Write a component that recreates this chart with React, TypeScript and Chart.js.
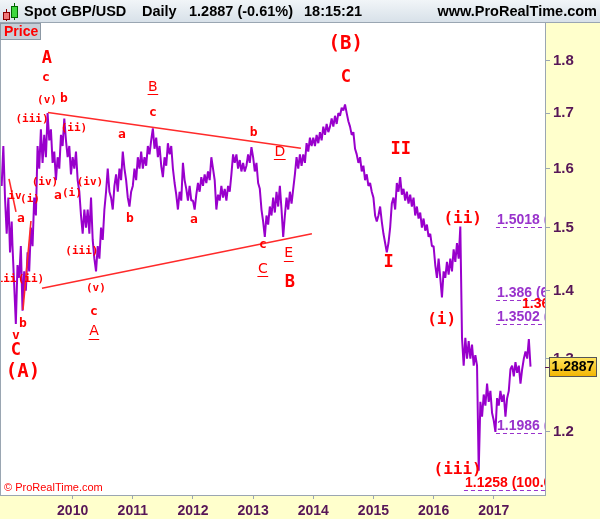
import React, { useEffect, useRef } from "react";
import { Chart, registerables } from "chart.js";

Chart.register(...registerables);

// ---------------- data ----------------
// closes sampled roughly every 10 days (36 per year); each segment starts at the given decimal year
const segmentStarts = [2008.82, 2009, 2010, 2011, 2012, 2013, 2014, 2015, 2016, 2017];
const samplesPerYear = 36;

const close2008 = [1.57, 1.64, 1.55, 1.49, 1.55, 1.46, 1.51];
const close2009 = [1.47, 1.41, 1.35, 1.44, 1.42, 1.47, 1.37, 1.43, 1.40, 1.46, 1.43, 1.50, 1.47, 1.55, 1.52, 1.64, 1.60, 1.67, 1.61, 1.66, 1.62, 1.70, 1.65, 1.67, 1.61, 1.63, 1.58, 1.62, 1.60, 1.66, 1.64, 1.69, 1.65, 1.62, 1.64, 1.59];
const close2010 = [1.62, 1.60, 1.63, 1.58, 1.56, 1.52, 1.49, 1.53, 1.50, 1.53, 1.49, 1.55, 1.48, 1.45, 1.43, 1.47, 1.45, 1.50, 1.48, 1.53, 1.56, 1.60, 1.56, 1.55, 1.53, 1.57, 1.59, 1.56, 1.60, 1.58, 1.63, 1.60, 1.58, 1.55, 1.535, 1.56];
const close2011 = [1.57, 1.60, 1.58, 1.62, 1.60, 1.63, 1.60, 1.62, 1.605, 1.64, 1.625, 1.65, 1.672, 1.635, 1.655, 1.62, 1.64, 1.605, 1.585, 1.62, 1.605, 1.645, 1.625, 1.64, 1.60, 1.575, 1.555, 1.53, 1.56, 1.545, 1.61, 1.58, 1.565, 1.545, 1.57, 1.545];
const close2012 = [1.545, 1.53, 1.555, 1.575, 1.56, 1.585, 1.57, 1.59, 1.575, 1.595, 1.58, 1.62, 1.60, 1.58, 1.53, 1.555, 1.545, 1.57, 1.55, 1.565, 1.545, 1.57, 1.56, 1.59, 1.625, 1.61, 1.625, 1.60, 1.615, 1.595, 1.61, 1.595, 1.605, 1.625, 1.61, 1.638];
const close2013 = [1.62, 1.595, 1.61, 1.575, 1.565, 1.53, 1.51, 1.485, 1.52, 1.505, 1.535, 1.52, 1.55, 1.525, 1.56, 1.535, 1.57, 1.53, 1.485, 1.52, 1.55, 1.53, 1.56, 1.54, 1.565, 1.59, 1.62, 1.60, 1.625, 1.605, 1.625, 1.61, 1.645, 1.63, 1.655, 1.64];
const close2014 = [1.655, 1.64, 1.66, 1.645, 1.665, 1.65, 1.675, 1.66, 1.68, 1.665, 1.675, 1.69, 1.675, 1.695, 1.68, 1.70, 1.695, 1.71, 1.705, 1.716, 1.70, 1.685, 1.675, 1.66, 1.665, 1.635, 1.625, 1.61, 1.62, 1.595, 1.605, 1.58, 1.59, 1.57, 1.575, 1.56];
const close2015 = [1.55, 1.52, 1.51, 1.52, 1.535, 1.51, 1.49, 1.475, 1.46, 1.475, 1.50, 1.54, 1.55, 1.53, 1.575, 1.56, 1.585, 1.555, 1.565, 1.545, 1.56, 1.54, 1.555, 1.535, 1.55, 1.52, 1.535, 1.515, 1.525, 1.50, 1.515, 1.495, 1.505, 1.485, 1.49, 1.47];
const close2016 = [1.47, 1.44, 1.42, 1.45, 1.42, 1.39, 1.43, 1.42, 1.445, 1.425, 1.45, 1.43, 1.465, 1.445, 1.475, 1.45, 1.502, 1.33, 1.29, 1.33, 1.30, 1.325, 1.30, 1.32, 1.29, 1.305, 1.29, 1.15, 1.24, 1.22, 1.25, 1.235, 1.265, 1.24, 1.255, 1.225];
const close2017 = [1.215, 1.20, 1.245, 1.235, 1.255, 1.24, 1.25, 1.22, 1.245, 1.255, 1.285, 1.29, 1.275, 1.295, 1.28, 1.29, 1.265, 1.285, 1.30, 1.31, 1.30, 1.328, 1.2887];
const closeSegments = [close2008, close2009, close2010, close2011, close2012, close2013, close2014, close2015, close2016, close2017];

const yearTicks = [2010, 2011, 2012, 2013, 2014, 2015, 2016, 2017];
const priceTicks = [1.2, 1.3, 1.4, 1.5, 1.6, 1.7, 1.8];
const dateMin = 2008.809;
const dateMax = 2017.852;
const priceMin = 1.1243;
const priceMax = 1.8759;
const lastPrice = 1.2887;
const headerItems = ["Spot GBP/USD", "Daily", "1.2887 (-0.61%)", "18:15:21"];

// trend lines: [date1, price1, date2, price2]
const trendLines = [
  [2009.59, 1.701, 2013.794, 1.636],
  [2009.49, 1.404, 2013.977, 1.49],
  [2008.942, 1.582, 2009.058, 1.526],
  [2009.174, 1.371, 2009.307, 1.511],
];

// fibonacci levels
const fibValues = [1.5018, 1.386, 1.3502, 1.1986, 1.1258];
const fibTexts = ["1.5018 (0.0%)", "1.386 (61.8%)", "1.3502 (23.6%)", "1.1986 (0.0%)", "1.1258 (100.0%)"];
const fibStartDates = [2017.037, 2017.037, 2017.037, 2017.037, 2016.505];
const redNote = ["1.3649 (161.8%)", 2017.47, 1.379];

// wave labels: [text, date, price]
const cycleLabels = [["(A)", 2009.174, 1.281], ["(B)", 2014.54, 1.833]];
const primaryLabels = [["A", 2009.573, 1.805], ["C", 2009.058, 1.312], ["C", 2014.54, 1.768], ["B", 2013.61, 1.413], ["II", 2015.453, 1.634], ["I", 2015.254, 1.444]];
const intermediateLabels = [["(ii)", 2016.483, 1.515], ["(i)", 2016.134, 1.356], ["(iii)", 2016.4, 1.151]];
const minorLabels = [
  ["(v)", 2009.573, 1.725], ["(iii)", 2009.324, 1.688], ["(ii)", 2010.022, 1.673],
  ["(iv)", 2009.54, 1.577], ["(iv)", 2010.287, 1.577], ["(i)", 2009.988, 1.558],
  ["iv", 2009.041, 1.553], ["(i)", 2009.291, 1.548], ["iii", 2008.9, 1.418],
  ["(ii)", 2009.307, 1.418], ["(iii)", 2010.154, 1.462], ["(v)", 2010.387, 1.404],
];
const letterLabels = [
  ["c", 2009.556, 1.768], ["b", 2009.855, 1.727], ["a", 2010.819, 1.661], ["c", 2011.334, 1.701],
  ["a", 2009.756, 1.553], ["a", 2009.141, 1.515], ["b", 2010.952, 1.515], ["a", 2012.017, 1.513],
  ["b", 2009.174, 1.351], ["v", 2009.058, 1.333], ["c", 2010.354, 1.368], ["b", 2013.011, 1.664],
  ["c", 2013.161, 1.473],
];
const underlinedLabels = [["B", 2011.334, 1.749], ["A", 2010.354, 1.339], ["C", 2013.161, 1.433], ["D", 2013.443, 1.629], ["E", 2013.593, 1.458]];

// ---------------- drawing ----------------
const MONO = '"DejaVu Sans Mono", monospace';
const SANS = '"Liberation Sans", Arial, sans-serif';
const RED = "#ff0000";
const FIB = "#9933cc";
const AXIS_TEXT = "#571657";
const FRAME = "#9aa6b2";

function drawList(ctx: CanvasRenderingContext2D, xs: any, ys: any, list: any[], font: string) {
  ctx.font = font;
  ctx.fillStyle = RED;
  ctx.textAlign = "center";
  ctx.textBaseline = "middle";
  for (const [t, d, p] of list) ctx.fillText(t, xs.getPixelForValue(d), ys.getPixelForValue(p));
}

const overlay = {
  id: "overlay",
  beforeDraw(chart: any) {
    const { ctx, chartArea: a, width, height } = chart;
    ctx.save();
    ctx.fillStyle = "#ffffcc";
    ctx.fillRect(0, 0, width, height);
    ctx.fillStyle = "#ffffff";
    ctx.fillRect(a.left, a.top, a.right - a.left, a.bottom - a.top);
    ctx.restore();
  },
  afterDatasetsDraw(chart: any) {
    const { ctx, chartArea: a } = chart;
    const xs = chart.scales.x;
    const ys = chart.scales.y;
    ctx.save();
    ctx.beginPath();
    ctx.rect(a.left, a.top, a.right - a.left, a.bottom - a.top);
    ctx.clip();

    ctx.strokeStyle = "#ff2a2a";
    ctx.lineWidth = 1.6;
    for (const [d1, p1, d2, p2] of trendLines) {
      ctx.beginPath();
      ctx.moveTo(xs.getPixelForValue(d1), ys.getPixelForValue(p1));
      ctx.lineTo(xs.getPixelForValue(d2), ys.getPixelForValue(p2));
      ctx.stroke();
    }

    ctx.lineWidth = 1;
    ctx.strokeStyle = FIB;
    ctx.setLineDash([4, 3]);
    fibValues.forEach((v, i) => {
      const y = Math.round(ys.getPixelForValue(v)) + 0.5;
      ctx.beginPath();
      ctx.moveTo(xs.getPixelForValue(fibStartDates[i]), y);
      ctx.lineTo(a.right, y);
      ctx.stroke();
    });
    ctx.setLineDash([]);

    ctx.font = `bold 14px ${SANS}`;
    ctx.textAlign = "left";
    ctx.textBaseline = "alphabetic";
    fibValues.forEach((v, i) => {
      const y = Math.round(ys.getPixelForValue(v));
      ctx.fillStyle = i === fibValues.length - 1 ? RED : FIB;
      ctx.fillText(fibTexts[i], xs.getPixelForValue(fibStartDates[i]) + 1, y - 3);
    });
    ctx.fillStyle = RED;
    ctx.textBaseline = "middle";
    ctx.fillText(redNote[0] as string, xs.getPixelForValue(redNote[1]), ys.getPixelForValue(redNote[2]));

    drawList(ctx, xs, ys, minorLabels, `bold 11px ${MONO}`);
    drawList(ctx, xs, ys, letterLabels, `bold 13px ${MONO}`);
    drawList(ctx, xs, ys, intermediateLabels, `bold 16px ${MONO}`);
    drawList(ctx, xs, ys, primaryLabels, `bold 17px ${MONO}`);
    drawList(ctx, xs, ys, cycleLabels, `bold 19px ${MONO}`);

    ctx.font = `14px "DejaVu Sans", sans-serif`;
    ctx.strokeStyle = RED;
    ctx.lineWidth = 1;
    for (const [t, d, p] of underlinedLabels) {
      const x = xs.getPixelForValue(d);
      const y = ys.getPixelForValue(p);
      ctx.fillText(t, x, y);
      const w = ctx.measureText(t).width + 1;
      ctx.beginPath();
      ctx.moveTo(x - w / 2, Math.round(y + 7) + 0.5);
      ctx.lineTo(x + w / 2, Math.round(y + 7) + 0.5);
      ctx.stroke();
    }
    ctx.restore();
  },
  afterDraw(chart: any) {
    const { ctx, chartArea: a, width } = chart;
    const ys = chart.scales.y;
    ctx.save();

    // frame
    ctx.strokeStyle = FRAME;
    ctx.lineWidth = 1;
    ctx.strokeRect(0.5, a.top - 0.5, a.right, a.bottom - a.top + 1);

    // header
    const g = ctx.createLinearGradient(0, 0, 0, 22);
    g.addColorStop(0, "#f1f5f8");
    g.addColorStop(1, "#d8e1e9");
    ctx.fillStyle = g;
    ctx.fillRect(0, 0, width, 22);
    ctx.strokeStyle = FRAME;
    ctx.beginPath();
    ctx.moveTo(0, 22.5);
    ctx.lineTo(width, 22.5);
    ctx.stroke();
    // candle icon
    ctx.strokeStyle = "#8a0000";
    ctx.beginPath(); ctx.moveTo(6.5, 9); ctx.lineTo(6.5, 21); ctx.stroke();
    ctx.fillStyle = "#f07878";
    ctx.fillRect(3.5, 12.5, 6, 7); ctx.strokeRect(3.5, 12.5, 6, 7);
    ctx.strokeStyle = "#006600";
    ctx.beginPath(); ctx.moveTo(14.5, 3); ctx.lineTo(14.5, 20); ctx.stroke();
    ctx.fillStyle = "#3fd83f";
    ctx.fillRect(11.5, 6.5, 6, 11); ctx.strokeRect(11.5, 6.5, 6, 11);

    ctx.fillStyle = "#000000";
    ctx.font = `bold 14.5px ${SANS}`;
    ctx.textBaseline = "middle";
    ctx.textAlign = "left";
    const hx = [24, 142, 189, 304];
    headerItems.forEach((t, i) => ctx.fillText(t, hx[i], 12));
    ctx.textAlign = "right";
    ctx.fillText("www.ProRealTime.com", 597, 12);

    // Price tag
    ctx.fillStyle = "#c6ced7";
    ctx.fillRect(0.5, 23.5, 40, 16);
    ctx.strokeStyle = "#8c98a4";
    ctx.strokeRect(0.5, 23.5, 40, 16);
    ctx.fillStyle = RED;
    ctx.font = `bold 14px ${SANS}`;
    ctx.textAlign = "left";
    ctx.fillText("Price", 4, 32);

    // copyright
    ctx.font = `11px ${SANS}`;
    ctx.fillText("\u00a9 ProRealTime.com", 4, a.bottom - 7);

    // last price box
    const py = Math.round(ys.getPixelForValue(lastPrice));
    ctx.strokeStyle = AXIS_TEXT;
    ctx.beginPath();
    ctx.moveTo(a.right, py + 0.5);
    ctx.lineTo(a.right + 5, py + 0.5);
    ctx.stroke();
    const bg = ctx.createLinearGradient(0, py - 9, 0, py + 10);
    bg.addColorStop(0, "#ffe45a");
    bg.addColorStop(1, "#f2b400");
    ctx.fillStyle = bg;
    ctx.fillRect(549.5, py - 9.5, 47, 19);
    ctx.strokeStyle = "#555555";
    ctx.strokeRect(549.5, py - 9.5, 47, 19);
    ctx.fillStyle = "#000000";
    ctx.font = `bold 14px ${SANS}`;
    ctx.textAlign = "center";
    ctx.fillText(lastPrice.toFixed(4), 573, py + 0.5);
    ctx.restore();
  },
};

export default function App() {
  const ref = useRef<HTMLCanvasElement>(null);
  useEffect(() => {
    document.body.style.margin = "0";
    const canvas = ref.current!;
    const points: { x: number; y: number }[] = [];
    closeSegments.forEach((seg, s) =>
      seg.forEach((v, i) => points.push({ x: segmentStarts[s] + i / samplesPerYear, y: v }))
    );
    const chart = new Chart(canvas, {
      type: "line",
      data: {
        datasets: [
          {
            data: points,
            borderColor: "#9900cc",
            borderWidth: 2,
            pointRadius: 0,
            tension: 0,
            fill: false,
            borderJoinStyle: "bevel",
          } as any,
        ],
      },
      options: {
        responsive: false,
        animation: false,
        devicePixelRatio: 1,
        events: [],
        layout: { padding: { top: 23, left: 1, right: 0, bottom: 0 } },
        plugins: { legend: { display: false }, tooltip: { enabled: false } },
        scales: {
          x: {
            type: "linear",
            position: "bottom",
            min: dateMin,
            max: dateMax,
            grid: { display: true, drawOnChartArea: false, drawTicks: true, tickLength: 4, color: FRAME },
            border: { display: false },
            ticks: {
              color: AXIS_TEXT,
              font: { family: SANS, size: 14, weight: "bold" },
              padding: 4,
              maxRotation: 0,
              autoSkip: false,
              callback: (v: any) => String(v),
            },
            afterBuildTicks: (axis: any) => {
              axis.ticks = yearTicks.map((v) => ({ value: v }));
            },
            afterFit: (s: any) => {
              s.height = 24;
            },
          },
          y: {
            type: "logarithmic",
            position: "right",
            min: priceMin,
            max: priceMax,
            grid: { display: true, drawOnChartArea: false, drawTicks: true, tickLength: 5, color: FRAME },
            border: { display: false },
            ticks: {
              color: AXIS_TEXT,
              font: { family: SANS, size: 15, weight: "bold" },
              padding: 3,
              autoSkip: false,
              callback: (v: any) => Number(v).toFixed(1),
            },
            afterBuildTicks: (axis: any) => {
              axis.ticks = priceTicks.map((v) => ({ value: v }));
            },
            afterFit: (s: any) => {
              s.width = 55;
            },
          },
        },
      } as any,
      plugins: [overlay as any],
    });
    return () => chart.destroy();
  }, []);
  return <canvas ref={ref} width={600} height={519} style={{ display: "block" }} />;
}
